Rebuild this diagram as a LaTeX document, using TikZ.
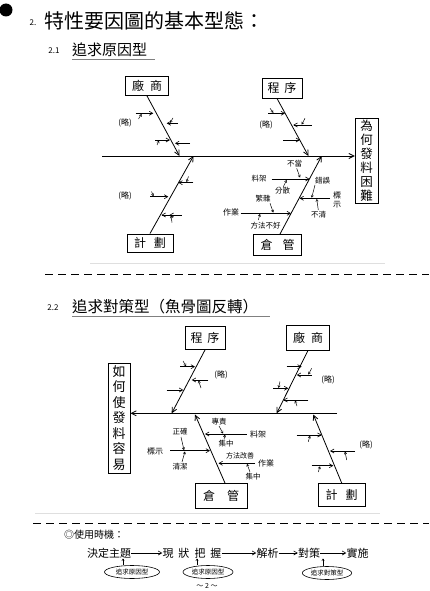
\documentclass[tikz,border=0pt]{standalone}
\usepackage{fontspec}
\setmainfont{Noto Sans CJK TC}
\usetikzlibrary{arrows.meta,shapes.geometric}
\begin{document}
\begin{tikzpicture}[x=1pt,y=-1pt,
  every node/.style={inner sep=0pt},
  bonearr/.style={line width=0.8pt,-{Straight Barb[length=5pt,width=5pt]}},
  arr/.style={line width=0.6pt,-{Straight Barb[length=3.5pt,width=4pt]}},
  tk/.style={line width=0.5pt,-{Straight Barb[length=2pt,width=2.5pt]}},
  cbox/.style={draw,line width=0.9pt,minimum height=20pt,font=\fontsize{12}{12}\selectfont},
  hbox/.style={draw,line width=0.9pt,align=center},
  lbl/.style={font=\fontsize{7.5}{8}\selectfont},
  omit/.style={font=\fontsize{8}{8}\selectfont},
  flow/.style={font=\fontsize{11}{11}\selectfont},
  blob/.style={ellipse,draw,line width=0.6pt,inner sep=1.2pt,font=\fontsize{6.5}{6.5}\selectfont},
  sep/.style={line width=0.8pt,dash pattern=on 8pt off 5pt},
]
\useasboundingbox (0,0) rectangle (429,591);
\fill[white] (0,0) rectangle (429,591);

% ---------- header ----------
\fill (6,10) circle (6.5);
\node[font=\fontsize{8}{8}\selectfont] (n2) at (33,23) {2.};
\node[anchor=west,font=\fontsize{20}{20}\selectfont] (t0) at (44,21) {特性要因圖的基本型態：};
\node[font=\fontsize{8}{8}\selectfont] (n21) at (54,51) {2.1};
\node[anchor=west,font=\fontsize{15}{15}\selectfont] (t1) at (72,50) {追求原因型};
\draw[gray,line width=0.4pt] (72,59) -- (155,59);

% ---------- diagram 1 ----------
\node[cbox,minimum width=43pt,minimum height=19pt] (c1a) at (147,86) {廠\hspace{6pt}商};
\node[cbox,minimum width=40pt] (c1b) at (282,88) {程\hspace{5pt}序};
\node[cbox,minimum width=46pt,minimum height=18pt] (c1c) at (150,243) {計\hspace{8pt}劃};
\node[cbox,minimum width=48pt,minimum height=21pt] (c1d) at (277.5,245) {倉\hspace{10pt}管};
\node[hbox,minimum width=23pt,minimum height=85pt,font=\fontsize{12.5}{14}\selectfont] (h1) at (366.7,161) {為\\何\\發\\料\\困\\難};

\coordinate (s1) at (102,156);
\draw[bonearr] (s1) -- (s1 -| h1.west);
\coordinate (j1a) at (179.5,156);
\coordinate (j1c) at (193.5,156);
\coordinate (j1b) at (308.5,156);
\coordinate (j1d) at (321.7,156);
\draw[bonearr] (c1a.south) -- (j1a);
\draw[bonearr] (c1c.north) -- (j1c);
\draw[bonearr] ([xshift=-5pt]c1b.south) -- (j1b);
\draw[bonearr] ([xshift=2.5pt]c1d.north) -- (j1d);

% bone 1 (廠商)
\draw[arr] (135.7,113.3) -- (153.3,113.3);
\draw[tk] (138.5,119) -- (141.5,114);
\draw[arr] (178,123.3) -- (166.7,123.3);
\draw[tk] (173,118) -- (170,122.8);
\draw[arr] (155,140) -- (170,140);
\draw[tk] (157,145) -- (159,140.6);
\draw[arr] (190,143.3) -- (175,143.3);
\node[omit] (o1) at (125,123) {(略)};
% bone 2 (計劃)
\draw[arr] (193.3,182.7) -- (178.3,182.7);
\draw[tk] (188.5,176.5) -- (186.5,182);
\draw[arr] (150,196.7) -- (168.3,196.7);
\draw[tk] (151.5,191.5) -- (153.5,196.2);
\draw[arr] (181.7,215) -- (169.5,215);
\draw[arr] (173,215) -- (161.5,215);
\draw[tk] (172,222.5) -- (171,215.6);
\node[omit] (o2) at (125,196) {(略)};
% bone 3 (程序)
\draw[arr] (268.3,113.3) -- (285,113.3);
\draw[tk] (270,108.3) -- (273.3,112.8);
\draw[arr] (311.7,125) -- (293.3,125);
\draw[tk] (305,118.3) -- (301.7,124.5);
\draw[arr] (283.3,140) -- (300,140);
\node[omit] (o3) at (266,125) {(略)};
% bone 4 (倉管)
\node[lbl] (l1) at (294.5,163.3) {不當};
\draw[tk] (296.7,168.3) -- (300,177.5);
\node[lbl] (l2) at (259,179) {料架};
\draw[arr] (271.7,179) -- (309.5,179);
\node[lbl] (l3) at (282.5,191) {分散};
\draw[tk] (283.3,186.7) -- (286.7,180);
\node[lbl] (l4) at (322.5,180.5) {錯誤};
\draw[tk] (315,185) -- (311.7,197.7);
\node[lbl,align=center,font=\fontsize{8}{8.5}\selectfont] (l5) at (337,200) {標\\示};
\draw[arr] (330,198.3) -- (299.5,198.3);
\node[lbl] (l6) at (318.5,215) {不清};
\draw[tk] (318.3,210) -- (316.7,199);
\node[lbl] (l7) at (263,198.5) {繁雜};
\draw[tk] (270,203.3) -- (273.3,212.5);
\node[lbl,font=\fontsize{8}{8}\selectfont] (l8) at (231,212) {作業};
\draw[arr] (240.5,213.3) -- (291,213.3);
\node[lbl] (l9) at (265.5,225.5) {方法不好};
\draw[tk] (258.3,220) -- (260,214);

% ---------- separator ----------
\draw[gray!25,line width=1pt] (90,263) -- (385,263);
\draw[sep] (45,274) -- (429,274);

\node[font=\fontsize{8}{8}\selectfont] (n22) at (53,308) {2.2};
\node[anchor=west,font=\fontsize{15.5}{16}\selectfont] (t2) at (72,307) {追求對策型（魚骨圖反轉）};
\draw[gray,line width=0.4pt] (72,316) -- (270,316);

% ---------- diagram 2 ----------
\node[hbox,minimum width=22pt,minimum height=110pt,font=\fontsize{13}{15.5}\selectfont] (h2) at (119,418) {如\\何\\使\\發\\料\\容\\易};
\node[cbox,minimum width=40pt,minimum height=23pt] (c2a) at (205,338) {程\hspace{5pt}序};
\node[cbox,minimum width=43pt,minimum height=25pt] (c2b) at (308,337.5) {廠\hspace{6pt}商};
\node[cbox,minimum width=52pt,minimum height=25pt] (c2c) at (221,496) {倉\hspace{12pt}管};
\node[cbox,minimum width=47pt,minimum height=23pt] (c2d) at (341.7,495) {計\hspace{8pt}劃};

\coordinate (s2) at (337,413.3);
\draw[bonearr] (s2) -- (s2 -| h2.east);
\coordinate (j2a) at (171.7,413.3);
\coordinate (j2b) at (276.7,413.3);
\coordinate (j2c) at (195,414.5);
\coordinate (j2d) at (313.3,414.5);
\draw[bonearr] (c2a.south) -- (j2a);
\draw[bonearr] (c2b.south) -- (j2b);
\draw[bonearr] ([xshift=4pt]c2c.north) -- (j2c);
\draw[bonearr] (c2d.north) -- (j2d);

% bone 程序
\draw[arr] (180,366.7) -- (195,366.7);
\draw[tk] (183,361) -- (186,366.2);
\draw[arr] (208.3,380) -- (191.7,380);
\draw[tk] (201,388) -- (198.5,380.6);
\draw[arr] (166.7,390) -- (183.3,390);
\node[omit] (o4) at (221,375) {(略)};
% bone 廠商
\draw[arr] (286.7,366.7) -- (301.7,366.7);
\draw[arr] (311.7,375) -- (296.7,375);
\draw[tk] (311.7,368.3) -- (308.3,374.5);
\draw[arr] (273.3,388.3) -- (288.3,388.3);
\draw[tk] (280,381.5) -- (278.5,387.8);
\draw[arr] (308.3,400) -- (283.3,400);
\draw[tk] (297,406) -- (295,400.6);
\node[omit] (o5) at (328,380) {(略)};
% bone 計劃
\draw[arr] (296.7,435) -- (321.7,435);
\draw[tk] (308.3,441.7) -- (310,435.6);
\draw[arr] (355,451) -- (330,451);
\draw[tk] (346.7,460) -- (345,451.6);
\draw[arr] (311.7,465.7) -- (333.3,465.7);
\draw[tk] (318.3,472) -- (320,466.3);
\node[omit] (o6) at (366,445) {(略)};
% bone 倉管
\node[lbl,font=\fontsize{8}{8}\selectfont] (m1) at (155,451.5) {標示};
\draw[arr] (170,450.7) -- (210,450.7);
\node[lbl] (m2) at (180,432) {正確};
\draw[tk] (181,437) -- (184,450);
\node[lbl] (m3) at (180,467) {清潔};
\draw[tk] (182,462) -- (185,451.5);
\node[lbl,font=\fontsize{8}{8}\selectfont] (m4) at (258,434) {料架};
\draw[arr] (246.7,434) -- (205,434);
\node[lbl] (m5) at (219,421.5) {專責};
\draw[tk] (219,426) -- (223,433.5);
\node[lbl] (m6) at (226,443.5) {集中};
\draw[tk] (224,439.5) -- (225,434.6);
\node[lbl,font=\fontsize{8}{8}\selectfont] (m7) at (266,463) {作業};
\draw[arr] (255,463.3) -- (218.5,463.3);
\node[lbl,font=\fontsize{7}{7}\selectfont] (m8) at (240,456) {方法改善};
\node[lbl] (m9) at (253,477) {集中};
\draw[tk] (250,472) -- (247,463.9);

% ---------- bottom ----------
\draw[gray!25,line width=1pt] (35,513) -- (380,513);
\draw[sep] (33,523) -- (429,523);
\node[anchor=west,font=\fontsize{10}{10}\selectfont] (u0) at (64,535) {◎使用時機：};

\node[flow] (f1) at (109,553) {決定主題};
\node[flow] (f2) at (192,553) {現\hspace{5pt}狀\hspace{5pt}把\hspace{5pt}握};
\node[flow] (f3) at (267.5,553) {解析};
\node[flow] (f4) at (309,553) {對策};
\node[flow] (f5) at (357.5,553) {實施};
\draw[arr] (f1.east) -- (f2.west);
\draw[arr] (f2.east) -- (f3.west);
\draw[arr] (f3.east) -- (f4.west);
\draw[arr] (f4.east) -- (f5.west);

\node[blob,minimum width=55pt,minimum height=13pt] (e1) at (132,572) {追求原因型};
\node[blob,minimum width=50pt,minimum height=13pt] (e2) at (208,572) {追求原因型};
\node[blob,minimum width=48pt,minimum height=13pt] (e3) at (327,573) {追求對策型};
\coordinate (u1) at (123,558.5);
\coordinate (u2) at (197,558.5);
\coordinate (u3) at (323,558.5);
\draw[tk] (u1 |- e1.north) -- (u1);
\draw[tk] (u2 |- e2.north) -- (u2);
\draw[tk] (u3 |- e3.north) -- (u3);

\node[font=\fontsize{7}{7}\selectfont] (pg) at (207,586) {～ 2 ～};
\end{tikzpicture}
\end{document}
